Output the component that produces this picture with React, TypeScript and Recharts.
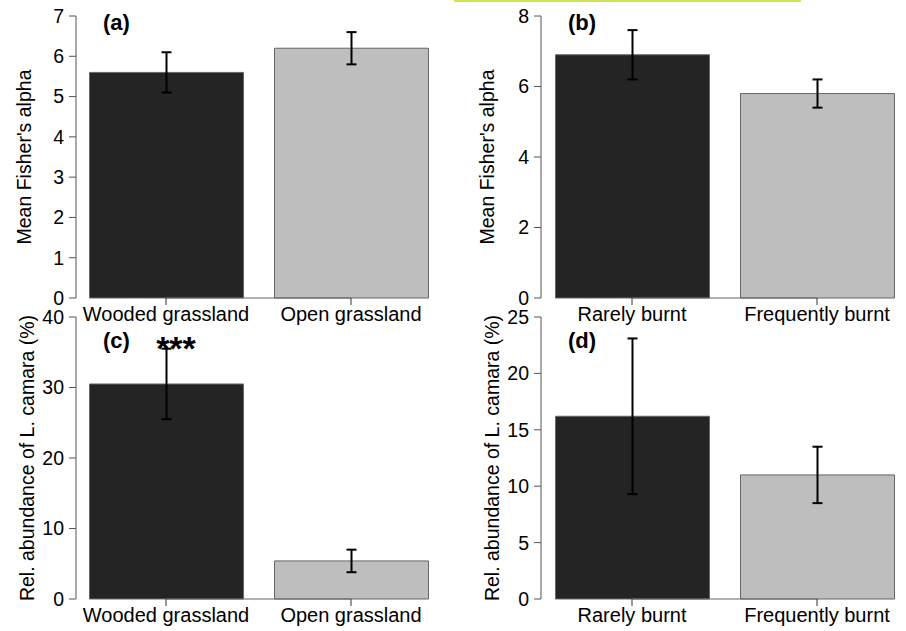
import React from "react"
import { BarChart, Bar, XAxis, YAxis, ErrorBar, Cell, ReferenceLine, Customized } from "recharts"

const habitatCategories = ["Wooded grassland", "Open grassland"]
const fireCategories = ["Rarely burnt", "Frequently burnt"]

const alphaHabitat = [5.6, 6.2]
const alphaHabitatErr = [0.5, 0.4]
const alphaFire = [6.9, 5.8]
const alphaFireErr = [0.7, 0.4]
const lantanaHabitat = [30.5, 5.4]
const lantanaHabitatErr = [5.0, 1.6]
const lantanaFire = [16.2, 11.0]
const lantanaFireErr = [6.9, 2.5]

const alphaHabitatTicks = [0, 1, 2, 3, 4, 5, 6, 7]
const alphaFireTicks = [0, 2, 4, 6, 8]
const lantanaHabitatTicks = [0, 10, 20, 30, 40]
const lantanaFireTicks = [0, 5, 10, 15, 20, 25]

const barFills = ["#242424", "#bebebe"]
const FONT = "'Liberation Sans', Arial, Helvetica, sans-serif"

interface PanelProps {
  left: number
  top: number
  height: number
  marginTop: number
  marginRight: number
  yWidth: number
  padding: { left: number; right: number }
  categories: string[]
  values: number[]
  errors: number[]
  ticks: number[]
  yLabel: string
  yLabelX: number
  letter: string
  letterX: number
  letterY: number
  stars?: { x: number; y: number }
}

function Panel(p: PanelProps) {
  const data = p.categories.map((cat, i) => ({ cat, value: p.values[i], err: p.errors[i] }))
  const plotTop = p.marginTop
  const plotBottom = p.height - 2 - 30
  const midY = (plotTop + plotBottom) / 2

  return (
    <div style={{ position: "absolute", left: p.left, top: p.top }}>
      <BarChart
        width={453}
        height={p.height}
        data={data}
        margin={{ top: p.marginTop, right: p.marginRight, bottom: 2, left: 0 }}
        barCategoryGap={0}
      >
        <XAxis
          dataKey="cat"
          type="category"
          interval={0}
          height={30}
          padding={p.padding}
          axisLine={false}
          tickLine={{ stroke: "#333", strokeWidth: 1 }}
          tickSize={7}
          tickMargin={2}
          tick={{ fontSize: 20, fill: "#000", fontFamily: FONT }}
        />
        <YAxis
          type="number"
          domain={[0, p.ticks[p.ticks.length - 1]]}
          ticks={p.ticks}
          interval={0}
          width={p.yWidth}
          axisLine={{ stroke: "#555", strokeWidth: 1 }}
          tickLine={{ stroke: "#555", strokeWidth: 1 }}
          tickSize={7}
          tickMargin={5}
          tick={{ fontSize: 19.5, fill: "#000", fontFamily: FONT }}
        />
        <ReferenceLine
          segment={[
            { x: p.categories[0], y: 0 },
            { x: p.categories[1], y: 0 },
          ]}
          stroke="#666"
          strokeWidth={1}
        />
        <Bar dataKey="value" barSize={154} stroke="#666" strokeWidth={1} isAnimationActive={false}>
          {data.map((d, i) => (
            <Cell key={d.cat} fill={barFills[i]} />
          ))}
          <ErrorBar dataKey="err" direction="y" width={5} strokeWidth={2} stroke="#000" />
        </Bar>
        <Customized
          component={() => (
            <g fontFamily={FONT}>
              <text
                x={p.yLabelX}
                y={midY}
                transform={`rotate(-90, ${p.yLabelX}, ${midY})`}
                textAnchor="middle"
                fontSize={19.5}
                fill="#000"
              >
                {p.yLabel}
              </text>
              <text x={p.letterX} y={p.letterY} fontSize={22} fontWeight="bold" fill="#000">
                {p.letter}
              </text>
              {p.stars && (
                <text x={p.stars.x} y={p.stars.y} textAnchor="middle" fontSize={34} fontWeight="bold" fill="#000">
                  ***
                </text>
              )}
            </g>
          )}
        />
      </BarChart>
    </div>
  )
}

export default function App() {
  return (
    <div style={{ position: "absolute", left: 0, top: 0, width: 906, height: 631, background: "#fff", overflow: "hidden" }}>
      <div style={{ position: "absolute", left: 454, top: 0, width: 347, height: 2, background: "#cde552" }} />
      <Panel
        left={0}
        top={0}
        height={330}
        marginTop={16}
        marginRight={9.5}
        yWidth={76}
        padding={{ left: -2.5, right: 0 }}
        categories={habitatCategories}
        values={alphaHabitat}
        errors={alphaHabitatErr}
        ticks={alphaHabitatTicks}
        yLabel="Mean Fisher's alpha"
        yLabelX={31}
        letter="(a)"
        letterX={103}
        letterY={30}
      />
      <Panel
        left={453}
        top={0}
        height={330}
        marginTop={16}
        marginRight={0}
        yWidth={88}
        padding={{ left: -1.5, right: -3.5 }}
        categories={fireCategories}
        values={alphaFire}
        errors={alphaFireErr}
        ticks={alphaFireTicks}
        yLabel="Mean Fisher's alpha"
        yLabelX={41}
        letter="(b)"
        letterX={115}
        letterY={30}
      />
      <Panel
        left={0}
        top={300}
        height={331}
        marginTop={17}
        marginRight={9.5}
        yWidth={76}
        padding={{ left: -2.5, right: 0 }}
        categories={habitatCategories}
        values={lantanaHabitat}
        errors={lantanaHabitatErr}
        ticks={lantanaHabitatTicks}
        yLabel="Rel. abundance of L. camara (%)"
        yLabelX={34}
        letter="(c)"
        letterX={103}
        letterY={48}
        stars={{ x: 176, y: 60 }}
      />
      <Panel
        left={453}
        top={300}
        height={331}
        marginTop={17}
        marginRight={0}
        yWidth={88}
        padding={{ left: -1.5, right: -3.5 }}
        categories={fireCategories}
        values={lantanaFire}
        errors={lantanaFireErr}
        ticks={lantanaFireTicks}
        yLabel="Rel. abundance of L. camara (%)"
        yLabelX={46}
        letter="(d)"
        letterX={115}
        letterY={48}
      />
    </div>
  )
}
